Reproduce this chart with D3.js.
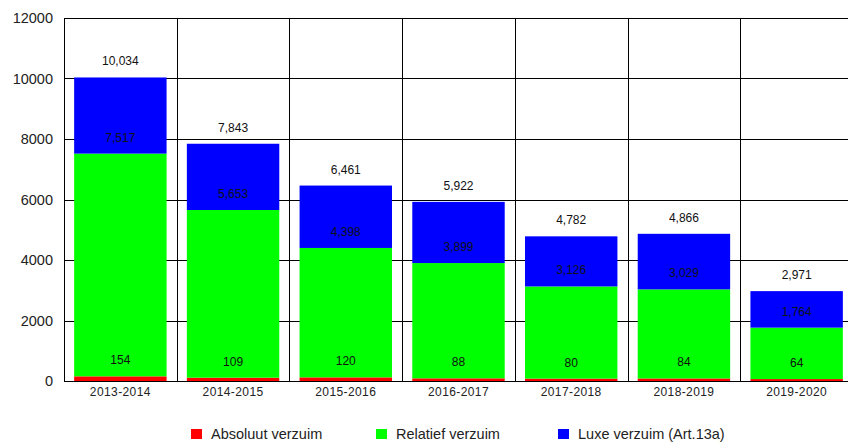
<!DOCTYPE html>
<html>
<head>
<meta charset="utf-8">
<script src="https://cdn.jsdelivr.net/npm/d3@7"></script>
<style>
  body { margin: 0; background: #fff; }
  svg { display: block; font-family: "Liberation Sans", Arial, sans-serif; }
</style>
</head>
<body>
<div id="chart"></div>
<script>
// data
var categories = ["2013-2014", "2014-2015", "2015-2016", "2016-2017", "2017-2018", "2018-2019", "2019-2020"];
var absoluut = [154, 109, 120, 88, 80, 84, 64];
var relatief = [7363, 5544, 4278, 3811, 3046, 2945, 1700];
var luxe = [2517, 2190, 2063, 2023, 1656, 1837, 1207];
var seriesNames = ["Absoluut verzuim", "Relatief verzuim", "Luxe verzuim (Art.13a)"];
var seriesColors = ["#ff0000", "#00ff00", "#0000ff"];
var yTicks = [0, 2000, 4000, 6000, 8000, 10000, 12000];

var width = 848, height = 444;
var margin = {top: 18, right: -5, bottom: 63, left: 64};

var svg = d3.select("#chart")
  .append("svg")
    .attr("width", width)
    .attr("height", height);

var rows = categories.map(function(c, i) {
  return {cat: c, a: absoluut[i], r: relatief[i], l: luxe[i]};
});
var stacked = d3.stack().keys(["a", "r", "l"])(rows);

var x = d3.scaleBand()
  .domain(categories)
  .range([margin.left, width - margin.right])
  .paddingInner(0.18)
  .paddingOuter(0.09);

var y = d3.scaleLinear()
  .domain([0, 12000])
  .range([height - margin.bottom, margin.top]);

// horizontal grid
svg.append("g")
  .selectAll("line")
  .data(yTicks)
  .enter()
  .append("line")
  .attr("x1", margin.left)
  .attr("x2", width)
  .attr("y1", function(d) { return Math.round(y(d)) + 0.5; })
  .attr("y2", function(d) { return Math.round(y(d)) + 0.5; })
  .attr("stroke", "#000")
  .attr("stroke-width", 1);

// vertical grid at category boundaries
var step = x.step();
svg.append("g")
  .selectAll("line")
  .data(d3.range(categories.length + 1))
  .enter()
  .append("line")
  .attr("x1", function(i) { return Math.round(margin.left + i * step) + 0.5; })
  .attr("x2", function(i) { return Math.round(margin.left + i * step) + 0.5; })
  .attr("y1", y(12000))
  .attr("y2", y(0))
  .attr("stroke", "#000")
  .attr("stroke-width", 1);

// y axis labels
var yAxis = svg.append("g")
  .attr("transform", "translate(" + margin.left + ",0)")
  .call(d3.axisLeft(y).tickValues(yTicks).tickSize(0).tickPadding(11).tickFormat(d3.format("d")));
yAxis.select(".domain").remove();
yAxis.selectAll("text")
  .attr("font-size", "14.5px")
  .attr("fill", "#222")
  .attr("font-family", "Liberation Sans, Arial, sans-serif");

// bars
var layers = svg.append("g")
  .selectAll("g")
  .data(stacked)
  .enter()
  .append("g")
  .attr("fill", function(d, i) { return seriesColors[i]; });

layers.selectAll("rect")
  .data(function(d) { return d; })
  .enter()
  .append("rect")
  .attr("x", function(d) { return x(d.data.cat); })
  .attr("width", x.bandwidth())
  .attr("y", function(d) { return y(d[1]); })
  .attr("height", function(d) { return y(d[0]) - y(d[1]); });

// labels above each segment: running total (drawn after all bars)
var fmt = d3.format(",");
svg.append("g")
  .selectAll("g")
  .data(stacked)
  .enter()
  .append("g")
  .selectAll("text")
  .data(function(d) { return d; })
  .enter()
  .append("text")
  .attr("x", function(d) { return x(d.data.cat) + x.bandwidth() / 2; })
  .attr("y", function(d) { return y(d[1]) - 12; })
  .attr("text-anchor", "middle")
  .attr("font-size", "12px")
  .attr("fill", "#111")
  .text(function(d) { return fmt(d[1]); });

// category labels
svg.append("g")
  .selectAll("text")
  .data(categories)
  .enter()
  .append("text")
  .attr("x", function(d) { return x(d) + x.bandwidth() / 2; })
  .attr("y", 396)
  .attr("text-anchor", "middle")
  .attr("font-size", "12px")
  .attr("letter-spacing", "0.4px")
  .attr("fill", "#222")
  .text(function(d) { return d; });

// legend
var legendX = [191, 376, 558];
var legend = svg.append("g")
  .selectAll("g")
  .data(seriesNames)
  .enter()
  .append("g")
  .attr("transform", function(d, i) { return "translate(" + legendX[i] + ",429)"; });
legend.append("rect")
  .attr("width", 11)
  .attr("height", 10)
  .attr("fill", function(d, i) { return seriesColors[i]; });
legend.append("text")
  .attr("x", 20)
  .attr("y", 10)
  .attr("font-size", "14.5px")
  .attr("fill", "#222")
  .text(function(d) { return d; });
</script>
</body>
</html>
